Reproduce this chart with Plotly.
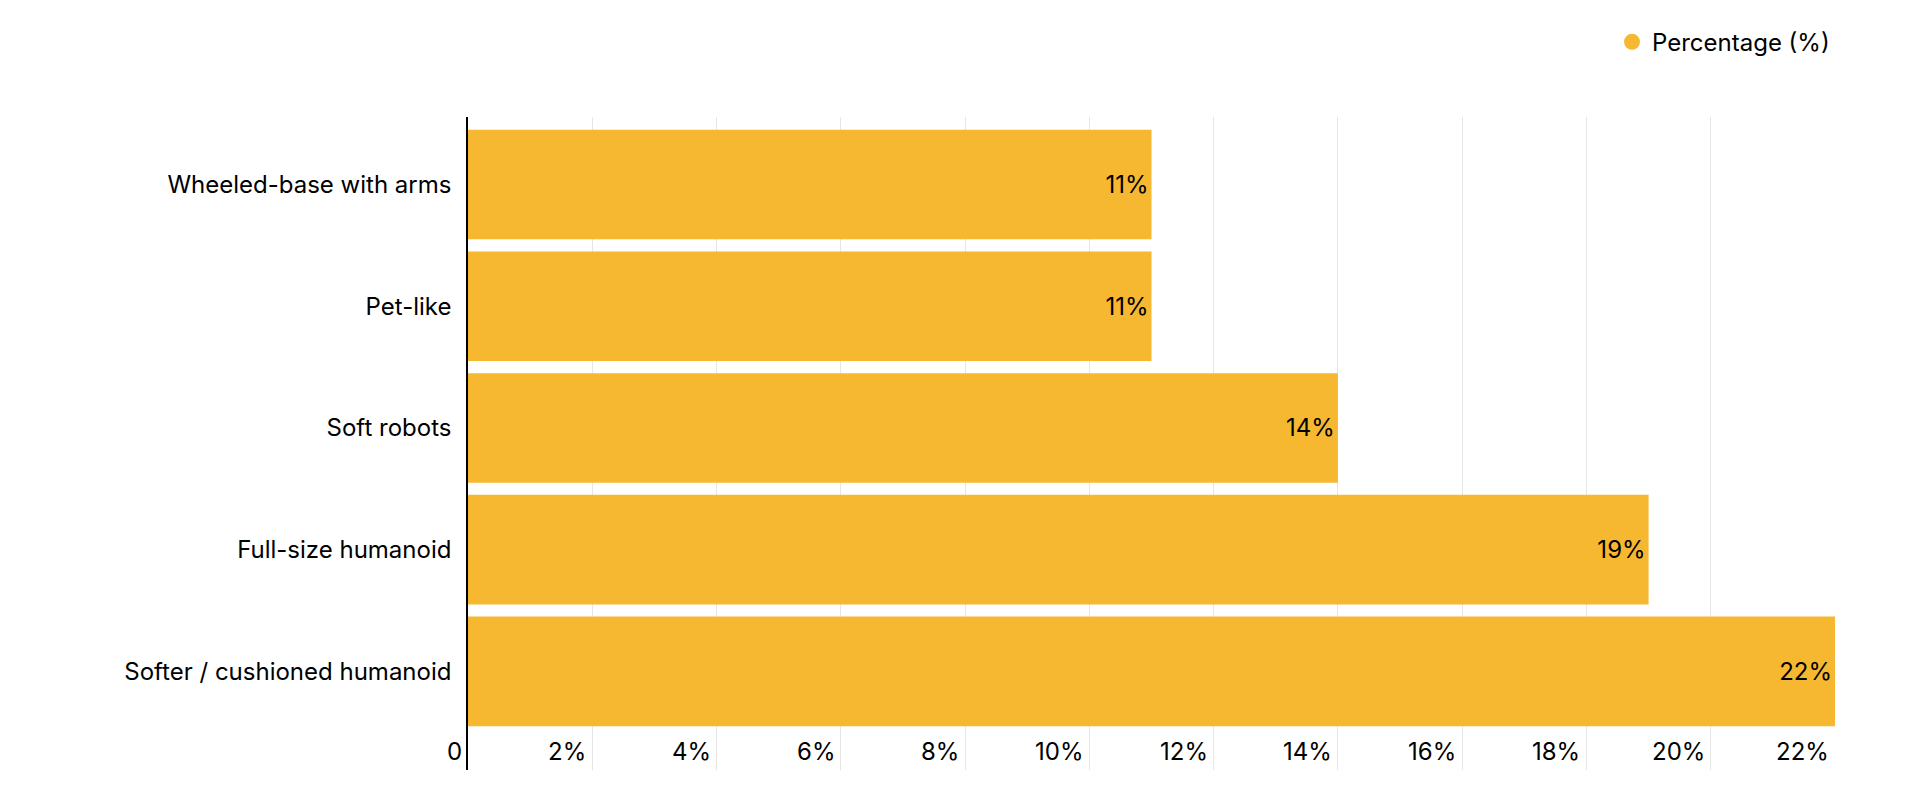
import plotly.graph_objects as go

categories = ["Softer / cushioned humanoid", "Full-size humanoid", "Soft robots", "Pet-like", "Wheeled-base with arms"]
values = [22, 19, 14, 11, 11]
tick_vals = [0, 2, 4, 6, 8, 10, 12, 14, 16, 18, 20, 22]
tick_text = ["0"] + [f"{v}%" for v in tick_vals[1:]]

color = "#F7B831"
font = "Inter, Roboto, sans-serif"

fig = go.Figure()
fig.add_trace(go.Bar(
    y=list(range(len(categories))), x=values, orientation="h",
    marker=dict(color=color, line=dict(width=0)), width=0.9,
    text=[f"{v}%" for v in values], textposition="inside", insidetextanchor="end",
    textfont=dict(color="black", size=24, family=font), showlegend=False,
    hoverinfo="x"))
fig.add_trace(go.Scatter(x=[None], y=[None], mode="markers", name="Percentage (%)",
                         marker=dict(symbol="circle", size=30, color=color)))

for v, t in zip(tick_vals, tick_text):
    fig.add_annotation(x=v, y=-0.66, text=t, showarrow=False, xanchor="right", xshift=-4,
                       yanchor="middle", font=dict(size=24, family=font, color="black"))

fig.update_layout(
    width=1920, height=804, plot_bgcolor="white", paper_bgcolor="white",
    margin=dict(l=460, r=93, t=98, b=42),
    font=dict(family=font, size=24, color="black"),
    legend=dict(x=1, xanchor="right", y=1.08, yanchor="bottom", orientation="h",
                font=dict(size=24, family=font), itemsizing="trace"),
    bargap=0.1,
)
fig.update_xaxes(range=[0, 22], tickvals=tick_vals, showticklabels=False, showgrid=True,
                 gridcolor="#e6e6e6", gridwidth=1, zeroline=False, showline=False)
fig.update_yaxes(range=[-0.81, 4.554], tickvals=list(range(len(categories))), ticktext=categories,
                 showgrid=False, zeroline=False, showline=True, linecolor="black", linewidth=1.5,
                 ticks="", ticklabelstandoff=10, tickfont=dict(size=24, family=font))

fig.write_html("out.html")
